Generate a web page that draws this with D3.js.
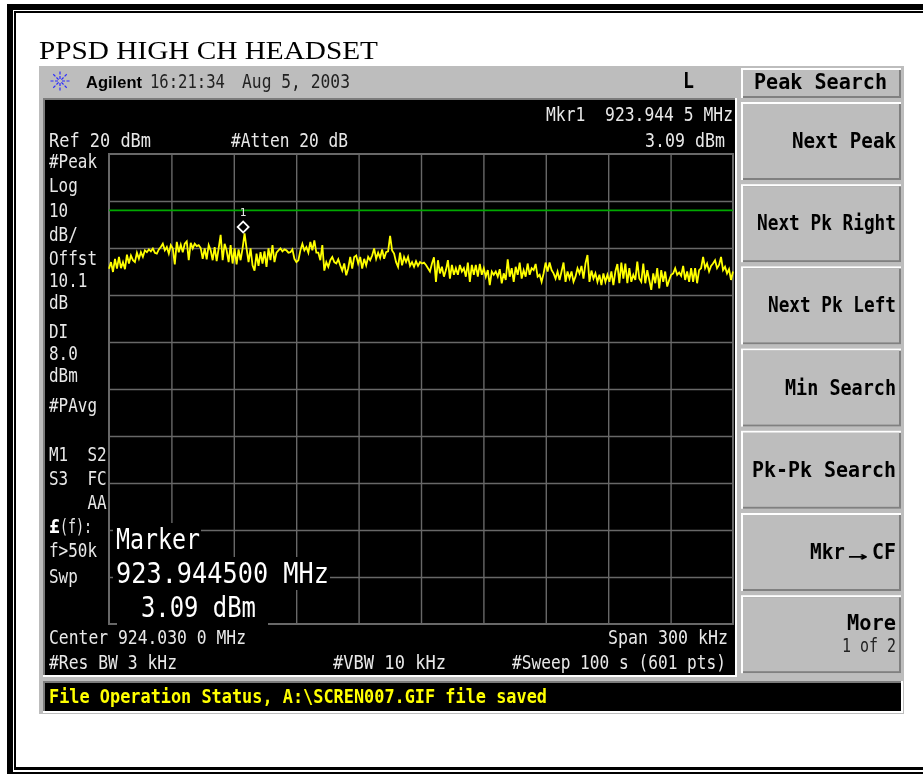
<!DOCTYPE html>
<html lang="en">
<head>
  <meta charset="UTF-8">
  <title>PPSD HIGH CH HEADSET</title>
  <script src="https://d3js.org/d3.v7.min.js"></script>
  <style>
    html, body { margin: 0; padding: 0; background: #fff; }
    svg { display: block; filter: blur(0.3px); }
    text { white-space: pre; }
    .scr { font-family: "DejaVu Sans Mono", monospace; font-size: 19.5px; fill: #e8e8e8; }
    .key { font-family: "DejaVu Sans Mono", monospace; font-size: 21px; font-weight: bold; fill: #000; }
    .grid .domain { display: none; }
    .grid line { stroke: #686868; stroke-width: 1.4px; }
    .trace { fill: none; stroke: #ffff00; stroke-width: 1.8px; stroke-linejoin: miter; }
  </style>
</head>
<body>
  <svg width="923" height="774"></svg>

  <script>
    // dBm every 2 px or so, one list per stretch of the sweep
    const trace1 = [-4.4,-3.0,-5.1,-2.3,-4.4,-1.9,-4.3,-3.0,-4.5,-1.4,-3.3,-1.6,-2.6,-3.0,-1.0,-2.3,-0.9,-1.9,-0.5,-0.9,-0.3,-0.7,-0.1,-1.0,-1.2,-0.3,0.2,0.9,-0.5,0.2,-1.2,0.6,-0.1,-3.5,1.3,-0.9,0.7,-0.9,0.9,1.4,-2.6,1.1,-0.1,0.9,0.4,0.6,0,-2.3,-0.1,-2.4,0.6,-0.5];
    const trace2 = [-2.6,0.2,-2.8,-0.1,2.8,-2.6,0.9,-0.5,-3.0,0.6,-3.3,-0.1,-3.5,-0.3,-2.6,-0.1,3.09,-0.1,-3.0,-0.1,-3.7,-4.8,-1.2,-3.8,-0.9,-3.3,-0.7,-4.0,-0.1,-2.6,0.6,-3.0,-1.0,-0.5,-0.1,-0.7,-0.3,-0.5,-1.0,-0.9,-0.3,-2.3,-3.0,-2.6,-0.5,0.9,-0.5,0.2,-1.0,1.3,-0.5,1.6,-1.0];
    const trace3 = [-1.0,-2.6,0.6,-4.8,-3.0,-4.0,-2.6,-1.9,-3.0,-3.3,-2.4,-3.7,-4.8,-3.3,-5.8,-4.3,-1.9,-4.4,-1.9,-1.6,-3.3,-1.9,-4.4,-2.3,-3.7,-1.9,-2.6,-1.6,-0.1,-2.3,-1.0,-2.1,-0.3,-2.3,-0.9,-0.7,2.6,-0.5,-1.2,-3.0,-4.0,-1.0,-3.7,-1.9,-3.0,-1.9,-3.8,-3.0,-4.0,-2.8,-3.8,-3.0];
    const trace4 = [-3.3,-3.1,-3.6,-4.3,-5.0,-3.3,-2.0,-7.2,-2.6,-5.4,-4.0,-6.1,-4.7,-2.6,-6.5,-3.6,-5.7,-4.3,-5.7,-3.6,-5.0,-4.3,-6.1,-3.1,-7.2,-3.6,-5.7,-3.6,-6.1,-3.4,-5.7,-4.3,-6.1,-4.7,-7.9,-5.0,-5.7,-5.0,-6.1,-4.5,-7.5,-5.4,-6.8,-2.4,-6.1,-4.3,-7.2,-4.0,-5.7,-3.1,-6.5,-4.7,-6.1];
    const trace5 = [-3.3,-5.7,-4.3,-4.7,-3.4,-6.1,-5.7,-7.2,-5.4,-3.1,-5.0,-3.1,-4.7,-5.4,-6.5,-5.0,-6.8,-5.0,-3.1,-7.2,-5.0,-6.5,-5.0,-7.2,-6.1,-4.3,-5.4,-3.8,-6.5,-3.3,-1.5,-7.2,-4.8,-6.5,-5.4,-7.2,-5.7,-7.9,-5.4,-7.2,-5.7,-7.2,-5.0,-7.9,-5.0,-3.4,-7.5,-3.1,-6.5,-3.3,-7.5,-4.3,-7.2];
    const trace6 = [-5.7,-6.8,-2.9,-6.5,-7.2,-3.3,-7.5,-4.7,-6.8,-8.9,-5.4,-7.5,-4.3,-8.6,-4.7,-7.2,-5.0,-8.2,-6.8,-5.7,-5.4,-4.3,-5.7,-5.2,-5.9,-3.8,-6.8,-5.0,-7.2,-4.3,-7.2,-4.3,-7.5,-4.7,-4.3,-1.9,-4.3,-3.3,-5.0,-3.8,-3.3,-2.6,-4.3,-3.6,-1.9,-4.7,-4.0,-5.4,-4.5,-6.8,-5.0];
    const traceDbm = [...trace1, ...trace2, ...trace3, ...trace4, ...trace5, ...trace6];

    const freqStart = 923.88, freqStop = 924.18;   // Center 924.030 0 MHz, Span 300 kHz
    const freqDivs = [923.91, 923.94, 923.97, 924.00, 924.03, 924.06, 924.09, 924.12, 924.15];
    const levelDivs = [10, 0, -10, -20, -30, -40, -50, -60, -70];
    const refLevel = 20, bottomLevel = -80;
    const displayLine = 8.0;
    const markerFreq = 923.9445, markerDbm = 3.09;

    const leftNotes = ["#Peak","Log","10","dB/","Offst","10.1","dB","DI","8.0","dBm","#PAvg","M1  S2","S3  FC","    AA","(f):","f>50k","Swp"];
    const softKeys = ["Next Peak","Next Pk Right","Next Pk Left","Min Search","Pk-Pk Search","Mkr","More"];

    const svg = d3.select("svg");
    const plot = { left: 109, right: 733, top: 154, bottom: 624 };

    const x = d3.scaleLinear().domain([freqStart, freqStop]).range([plot.left, plot.right]);
    const y = d3.scaleLinear().domain([bottomLevel, refLevel]).range([plot.bottom, plot.top]);
    const freqAt = d3.scaleLinear().domain([0, traceDbm.length - 1]).range([freqStart, freqStop]);

    function rect(x0, y0, x1, y1, fill) {
      return svg.append("rect").attr("x", x0).attr("y", y0)
        .attr("width", x1 - x0).attr("height", y1 - y0).attr("fill", fill);
    }

    // text squeezed to the width it has on the instrument
    function label(str, x0, x1, base, cls) {
      return svg.append("text").attr("class", cls || "scr")
        .attr("x", x0).attr("y", base)
        .attr("textLength", x1 - x0).attr("lengthAdjust", "spacingAndGlyphs")
        .text(str);
    }

    // page border, no right side on the scan
    rect(7, 4, 923, 10, "#000");
    rect(14, 11, 923, 13, "#000");
    rect(7, 4, 13, 774, "#000");
    rect(14, 11, 16, 770, "#000");
    rect(14, 767, 923, 770, "#000");
    rect(7, 772, 923, 774, "#000");

    svg.append("text").attr("x", 39).attr("y", 59)
      .attr("font-family", "Liberation Serif").attr("font-size", 24.5)
      .attr("textLength", 339).attr("lengthAdjust", "spacingAndGlyphs")
      .text("PPSD HIGH CH HEADSET");

    // instrument body
    rect(39, 66, 904, 714, "#bdbdbd");
    rect(43, 98, 737, 677, "#fff");
    rect(43, 98, 735, 675, "#7c7c7c");
    rect(45, 100, 735, 675, "#000");

    // blue logo
    const logo = svg.append("g").attr("transform", "translate(60,81)")
      .attr("stroke", "#2a2aff").attr("stroke-width", 1.2);
    d3.range(8).forEach(i => {
      const a = i * Math.PI / 4;
      logo.append("line").attr("x1", 2 * Math.cos(a)).attr("y1", 2 * Math.sin(a))
        .attr("x2", 10 * Math.cos(a)).attr("y2", 10 * Math.sin(a))
        .attr("stroke-dasharray", "3 1.5");
    });

    svg.append("text").attr("x", 86).attr("y", 88)
      .attr("font-family", "Liberation Sans").attr("font-weight", "bold").attr("font-size", 16.5)
      .attr("textLength", 56).attr("lengthAdjust", "spacingAndGlyphs").text("Agilent");
    label("16:21:34", 150, 225, 88).style("fill", "#222");
    label("Aug 5, 2003", 242, 350, 88).style("fill", "#222");
    label("L", 683, 694, 88, "key");

    // graticule
    const grid = svg.append("g").attr("class", "grid");
    grid.append("g").attr("transform", `translate(0,${plot.bottom})`)
      .call(d3.axisBottom(x).tickValues(freqDivs).tickSize(plot.top - plot.bottom).tickFormat(""));
    grid.append("g").attr("transform", `translate(${plot.left},0)`)
      .call(d3.axisLeft(y).tickValues(levelDivs).tickSize(plot.left - plot.right).tickFormat(""));
    svg.append("rect").attr("x", plot.left).attr("y", plot.top)
      .attr("width", plot.right - plot.left).attr("height", plot.bottom - plot.top)
      .attr("fill", "none").attr("stroke", "#686868").attr("stroke-width", 2);

    // display line
    svg.append("line").attr("x1", x(freqStart)).attr("x2", x(freqStop))
      .attr("y1", y(displayLine)).attr("y2", y(displayLine))
      .attr("stroke", "#00a800").attr("stroke-width", 1.6);

    const line = d3.line().x((d, i) => x(freqAt(i))).y(d => y(d));
    svg.append("path").datum(traceDbm).attr("class", "trace").attr("d", line);

    // marker
    svg.append("path").attr("d", d3.symbol(d3.symbolSquare, 60))
      .attr("transform", `translate(${x(markerFreq)},${y(markerDbm) - 6.5}) rotate(45)`)
      .attr("fill", "#000").attr("stroke", "#fff").attr("stroke-width", 1.8);
    svg.append("text").attr("class", "scr").attr("x", x(markerFreq)).attr("y", y(markerDbm) - 17.5)
      .attr("text-anchor", "middle").style("font-size", "11px").text("1");

    // marker readout sits on top of the grid
    rect(113, 523, 201, 557, "#000");
    rect(113, 557, 330, 590, "#000");
    rect(117, 590, 268, 625, "#000");
    label("Marker", 116, 200, 549).style("font-size", "29px").style("fill", "#fff");
    label("923.944500 MHz", 116, 329, 583).style("font-size", "29px").style("fill", "#fff");
    label("3.09 dBm", 141, 256, 617).style("font-size", "29px").style("fill", "#fff");

    // readouts round the graticule
    label("Ref 20 dBm", 49, 151, 147);
    label("#Atten 20 dB", 231, 348, 147);
    label("Mkr1  923.944 5 MHz", 546, 733, 121);
    label("3.09 dBm", 645, 725, 147);
    label("Center 924.030 0 MHz", 49, 246, 644);
    label("#Res BW 3 kHz", 49, 177, 669);
    label("#VBW 10 kHz", 333, 446, 669);
    label("Span 300 kHz", 608, 728, 644);
    label("#Sweep 100 s (601 pts)", 512, 726, 669);

    const noteBase = [168, 192, 217, 241, 265, 287, 309, 338, 360, 382, 412, 461, 485, 509, 533, 557, 583];
    leftNotes.forEach((n, i) => {
      if (n === "(f):") {
        label("£", 49, 60, noteBase[i]).style("font-weight", "bold").style("fill", "#fff");
        label(n, 60, 92, noteBase[i]);
      } else {
        label(n, 49, 49 + n.length * 9.6, noteBase[i]);
      }
    });

    // softkeys
    function bevel(x0, y0, x1, y1) {
      rect(x0, y0, x1, y1, "#fff");
      rect(x0 + 2, y0 + 2, x1, y1, "#808080");
      rect(x0 + 2, y0 + 2, x1 - 2, y1 - 2, "#bdbdbd");
    }
    bevel(741, 68, 901, 98);
    label("Peak Search", 754, 887, 89, "key");

    const keyLeft = [792, 757, 768, 785, 752, 810, 847];
    softKeys.forEach((k, i) => {
      const top = 102 + i * 82.2;
      bevel(741, top, 901, top + 78);
      if (k === "Mkr") {
        label("Mkr", 810, 845, top + 46, "key");
        label("→", 848, 868, top + 48, "key").style("font-size", "16px");
        label("CF", 872, 896, top + 46, "key");
      } else if (k === "More") {
        label(k, keyLeft[i], 896, top + 35, "key");
        label("1 of 2", 842, 896, top + 57).style("fill", "#222");
      } else {
        label(k, keyLeft[i], 896, top + 46, "key");
      }
    });

    // status line
    rect(43, 681, 903, 713, "#fff");
    rect(43, 681, 901, 711, "#7c7c7c");
    rect(45, 683, 901, 711, "#000");
    label("File Operation Status, A:\\SCREN007.GIF file saved", 49, 547, 703, "key")
      .style("fill", "#ffff00").style("font-size", "20px");
  </script>
</body>
</html>
